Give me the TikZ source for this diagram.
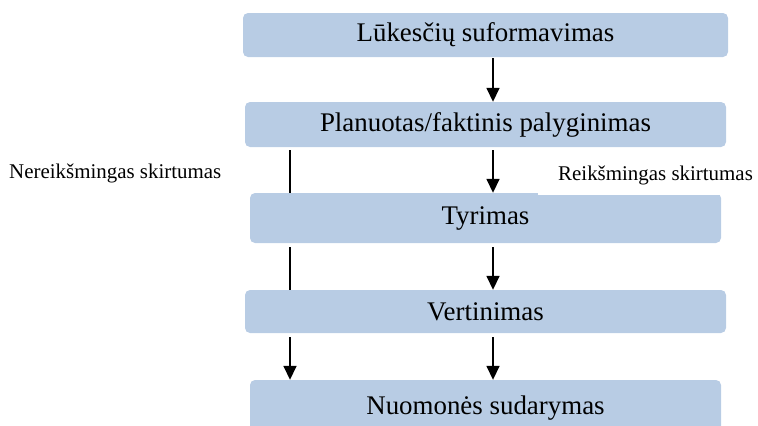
\documentclass[tikz,border=0pt]{standalone}
\usepackage{fontspec}
\setmainfont{Liberation Serif}
\usetikzlibrary{arrows.meta,calc}
\definecolor{boxblue}{HTML}{B8CCE4}
\tikzset{
  stepbox/.style={fill=boxblue, draw=none, rounded corners=5bp, inner sep=0pt,
    font=\fontsize{27}{32}\selectfont},
  sidelabel/.style={inner sep=0pt, font=\fontsize{21}{25}\selectfont},
  flow/.style={line width=1.6bp, -{Triangle[length=14bp,width=13bp]}},
  plain/.style={line width=1.6bp},
}
\begin{document}
\begin{tikzpicture}[x=1bp,y=-1bp]
  \useasboundingbox (0,0) rectangle (758,425);
  % stages
  \node[stepbox, minimum width=485bp, minimum height=44bp] (b1) at (485.5,35) {Lūkesčių suformavimas};
  \node[stepbox, minimum width=481bp, minimum height=45bp] (b2) at (485.5,124.5) {Planuotas/faktinis palyginimas};
  \node[stepbox, minimum width=471bp, minimum height=50bp] (b3) at (485.5,218) {Tyrimas};
  \node[stepbox, minimum width=481bp, minimum height=43bp] (b4) at (485.5,311.5) {Vertinimas};
  \node[stepbox, minimum width=471bp, minimum height=56bp] (b5) at (485.5,408) {Nuomonės sudarymas};
  % branch labels
  \node[sidelabel, anchor=base west] (l1) at (9,178) {Nereikšmingas skirtumas};
  \node[sidelabel, anchor=west, fill=white, minimum height=40bp, inner xsep=20bp] (l2) at (538,175) {Reikšmingas skirtumas};
  % vertical positions of the two paths
  \coordinate (cx) at (493,0);
  \coordinate (lx) at (290,0);
  % main path
  \draw[flow] ($(b1.south -| cx)+(0,1)$) -- (b2.north -| cx);
  \draw[flow] ($(b2.south -| cx)+(0,3)$) -- (b3.north -| cx);
  \draw[flow] ($(b3.south -| cx)+(0,4)$) -- (b4.north -| cx);
  \draw[flow] ($(b4.south -| cx)+(0,4)$) -- (b5.north -| cx);
  % bypass path
  \draw[plain] ($(b2.south -| lx)+(0,3)$) -- (b3.north -| lx);
  \draw[plain] ($(b3.south -| lx)+(0,4)$) -- (b4.north -| lx);
  \draw[flow] ($(b4.south -| lx)+(0,4)$) -- (b5.north -| lx);
\end{tikzpicture}
\end{document}
